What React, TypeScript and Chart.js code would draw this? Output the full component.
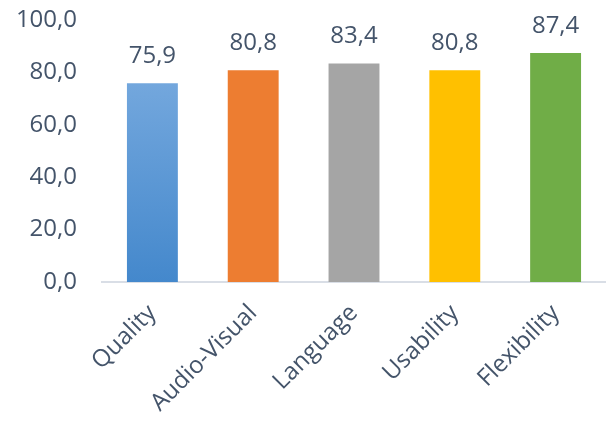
import React, { useEffect, useRef } from "react";
import { Chart, registerables } from "chart.js";

Chart.register(...registerables);

const categories = ["Quality", "Audio-Visual", "Language", "Usability", "Flexibility"];
const scores = [75.9, 80.8, 83.4, 80.8, 87.4];
const barColors = ["#5B9BD5", "#ED7D31", "#A5A5A5", "#FFC000", "#70AD47"];
const yTicks = [0, 20, 40, 60, 80, 100];

const TEXT_COLOR = "#44546A";
const FONT_FAMILY = "'Open Sans', sans-serif";

const fmt = (v: number) => v.toFixed(1).replace(".", ",");

// Draws the value above each bar
const valueLabels = {
  id: "valueLabels",
  afterDatasetsDraw(chart: any) {
    const ctx = chart.ctx;
    const meta = chart.getDatasetMeta(0);
    ctx.save();
    ctx.font = `24px ${FONT_FAMILY}`;
    ctx.fillStyle = TEXT_COLOR;
    ctx.textAlign = "center";
    ctx.textBaseline = "middle";
    meta.data.forEach((bar: any, i: number) => {
      ctx.fillText(fmt(scores[i]), bar.x, bar.y - 27);
    });
    ctx.restore();
  },
};

export default function App() {
  const canvasRef = useRef<HTMLCanvasElement | null>(null);

  useEffect(() => {
    document.body.style.margin = "0";
    const canvas = canvasRef.current;
    if (!canvas) return;

    const chart = new Chart(canvas, {
      type: "bar",
      data: {
        labels: categories,
        datasets: [
          {
            data: scores,
            backgroundColor: (c: any) => {
              const i = c.dataIndex;
              if (i !== 0) return barColors[i];
              const y = c.chart.scales?.y;
              if (!y || !c.chart.chartArea) return barColors[0];
              const top = y.getPixelForValue(scores[0]);
              const bottom = y.getPixelForValue(0);
              if (!isFinite(top) || !isFinite(bottom)) return barColors[0];
              const g = c.chart.ctx.createLinearGradient(0, top, 0, bottom);
              g.addColorStop(0, "#73A7DD");
              g.addColorStop(1, "#4488CC");
              return g;
            },
            borderWidth: 0,
            categoryPercentage: 1,
            barPercentage: 0.505,
          },
        ],
      },
      options: {
        animation: false,
        responsive: false,
        maintainAspectRatio: false,
        layout: { padding: { left: 14, top: 0, right: 0, bottom: 0 } },
        plugins: {
          legend: { display: false },
          tooltip: { enabled: false },
        },
        scales: {
          x: {
            grid: { display: false, drawTicks: false },
            border: { display: true, color: "#D9DEE6", width: 2 },
            afterFit: (s: any) => {
              s.paddingLeft = 0;
              s.paddingRight = 0;
              s.height = 141;
            },
            ticks: {
              color: TEXT_COLOR,
              font: { size: 24, family: FONT_FAMILY },
              minRotation: 45,
              maxRotation: 45,
              padding: 17,
            },
          },
          y: {
            min: 0,
            max: 100,
            afterBuildTicks: (axis: any) => {
              axis.ticks = yTicks.map((v) => ({ value: v }));
            },
            afterFit: (s: any) => {
              s.width = 88;
              s.paddingTop = 20;
              s.paddingBottom = 0;
            },
            grid: { display: false, drawTicks: false },
            border: { display: false },
            ticks: {
              color: TEXT_COLOR,
              font: { size: 24, family: FONT_FAMILY },
              padding: 25,
              callback: (v: any) => fmt(Number(v)),
            },
          },
        },
      },
      plugins: [valueLabels],
    });

    return () => chart.destroy();
  }, []);

  return (
    <div style={{ position: "absolute", left: 0, top: 0, width: 606, height: 423 }}>
      <canvas ref={canvasRef} width={606} height={423} style={{ display: "block" }} />
    </div>
  );
}
